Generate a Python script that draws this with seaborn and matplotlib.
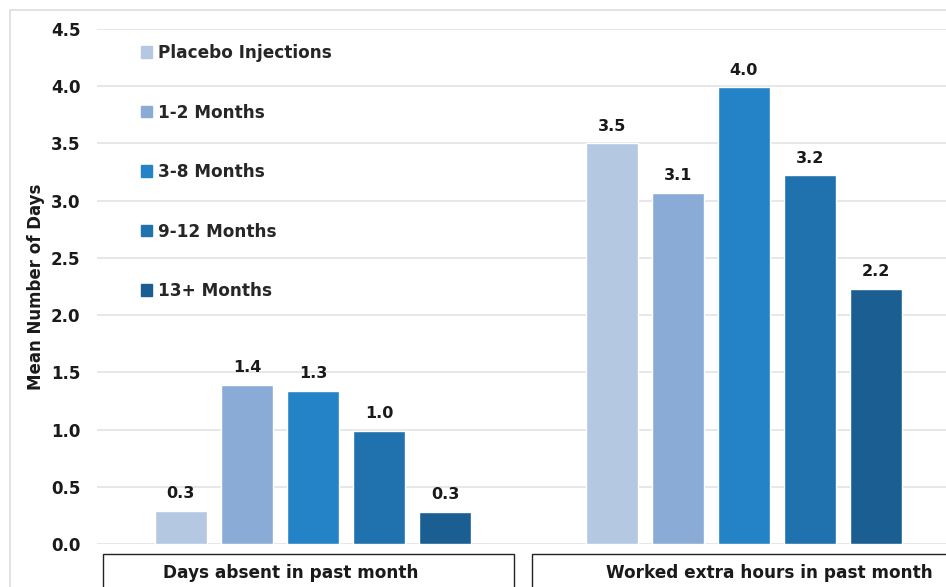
import pandas as pd
import seaborn as sns
import matplotlib.pyplot as plt
from matplotlib.patches import Rectangle
from matplotlib.lines import Line2D
import matplotlib.transforms as mtransforms

# data
categories = ['Days absent in past month', 'Worked extra hours in past month']
groups = ['Placebo Injections', '1-2 Months', '3-8 Months', '9-12 Months', '13+ Months']
days_absent = [0.29, 1.39, 1.34, 0.99, 0.28]
extra_hours = [3.50, 3.07, 3.99, 3.22, 2.23]
colors = ['#b5c8e2', '#89abd5', '#2383c6', '#1f72ad', '#1b5f92']

rows = []
for g, a, e in zip(groups, days_absent, extra_hours):
    rows.append({'category': categories[0], 'group': g, 'value': a})
    rows.append({'category': categories[1], 'group': g, 'value': e})
df = pd.DataFrame(rows)

sns.set_style('white')
plt.rcParams['font.family'] = ['DejaVu Sans']

W, H = 946, 587
fig = plt.figure(figsize=(W / 100, H / 100), dpi=100)
ax_left, ax_right, ax_bottom, ax_top = 97, 946, 544, 29
ax = fig.add_axes([ax_left / W, (H - ax_bottom) / H,
                   (ax_right - ax_left) / W, (ax_bottom - ax_top) / H])

sns.barplot(data=df, x='category', y='value', hue='group',
            order=categories, hue_order=groups, palette=colors,
            saturation=1, width=0.766, gap=0.21, ax=ax, legend=True)

ax.set_xlim(-0.501, 1.469)
ax.set_ylim(0, 4.5)
ax.set_yticks([i * 0.5 for i in range(10)])
ax.set_yticklabels([f'{i * 0.5:.1f}' for i in range(10)],
                   fontsize=12, fontweight='bold', color='#1a1a1a')
ax.tick_params(axis='y', length=0, pad=12)
ax.set_xticks([])
ax.set_xlabel('')
ax.set_ylabel('Mean Number of Days', fontsize=12, fontweight='bold',
              color='#1a1a1a', labelpad=4)
ax.grid(axis='y', color='#e3e3e3', linewidth=1.2)
ax.set_axisbelow(True)
sns.despine(ax=ax, left=True, bottom=True)

for cont in ax.containers:
    ax.bar_label(cont, fmt='%.1f', padding=7, fontsize=11.5,
                 fontweight='bold', color='#1a1a1a')

# category boxes under the axis
trans = mtransforms.blended_transform_factory(ax.transData, ax.transAxes)
box_top = -10 / (ax_bottom - ax_top)
box_edges = [(-0.487, 0.467), (0.508, 1.5)]
label_x = [-0.051, 1.060]
for i, cat in enumerate(categories):
    x0, x1 = box_edges[i]
    ax.add_patch(Rectangle((x0, box_top - 0.3), x1 - x0, 0.3,
                           transform=trans, clip_on=False, fill=False,
                           edgecolor='#222222', linewidth=1.0))
    ax.text(label_x[i], -29 / (ax_bottom - ax_top), cat, transform=trans,
            ha='center', va='center', fontsize=12.2, fontweight='bold',
            color='#1a1a1a', clip_on=False)

# legend
handles = [Rectangle((0, 0), 1, 1, color=c) for c in colors]
ax.legend(handles, groups, loc='upper left',
          bbox_to_anchor=(141 / W, 1 - 44 / H), bbox_transform=fig.transFigure,
          frameon=False, prop={'size': 12.2, 'weight': 'bold'},
          handlelength=0.65, handleheight=0.65, handletextpad=0.35,
          labelspacing=2.45, borderpad=0, borderaxespad=0)

# light outer frame
fig.add_artist(Line2D([10 / W, 1], [1 - 10 / H, 1 - 10 / H],
                      transform=fig.transFigure, color='#dddddd', linewidth=1.2))
fig.add_artist(Line2D([10 / W, 10 / W], [0, 1 - 10 / H],
                      transform=fig.transFigure, color='#dddddd', linewidth=1.2))

fig.savefig('out.png', dpi=100)
